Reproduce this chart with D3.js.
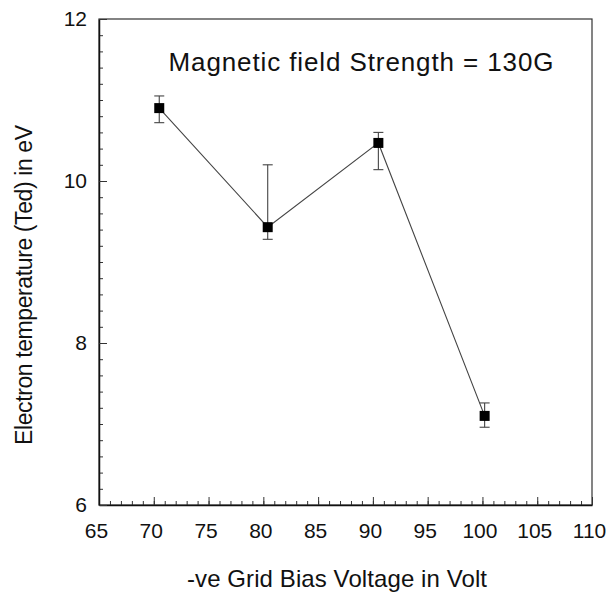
<!DOCTYPE html>
<html>
<head>
<meta charset="utf-8">
<script src="https://cdn.jsdelivr.net/npm/d3@7"></script>
<style>
  body { margin: 0; background: #fff; }
  text { font-family: "Liberation Sans", Arial, sans-serif; fill: #111; }
</style>
</head>
<body>
<div id="chart"></div>
<script>
// Data
const biasVoltage = [70.5, 80.4, 90.5, 100.2];
const electronTemp = [10.90, 9.43, 10.47, 7.10];
const errLow = [10.72, 9.28, 10.14, 6.96];
const errHigh = [11.05, 10.20, 10.60, 7.26];
const xTicks = [65, 70, 75, 80, 85, 90, 95, 100, 105, 110];
const yTicks = [6, 8, 10, 12];

const width = 613, height = 596;
const margin = { top: 19, right: 21, bottom: 91, left: 99 };
const plotW = width - margin.left - margin.right;
const plotH = height - margin.top - margin.bottom;

const svg = d3.select("#chart")
  .append("svg")
  .attr("width", width)
  .attr("height", height);

const g = svg.append("g")
  .attr("transform", `translate(${margin.left},${margin.top})`);

const x = d3.scaleLinear().domain([65, 110]).range([0, plotW]);
const y = d3.scaleLinear().domain([6, 12]).range([plotH, 0]);

// Box (top and right borders)
g.append("rect")
  .attr("width", plotW)
  .attr("height", plotH)
  .attr("fill", "none")
  .attr("stroke", "#333")
  .attr("stroke-width", 1.2);

// Minor ticks on x (every 1 V), pointing up
const xMinor = d3.range(65, 111, 1);
g.append("g")
  .attr("transform", `translate(0,${plotH})`)
  .call(d3.axisBottom(x).tickValues(xMinor).tickSize(-4).tickFormat(""))
  .call(a => a.select(".domain").remove())
  .selectAll("line").attr("stroke", "#333");

// Major x ticks with labels
const xAxis = g.append("g")
  .attr("transform", `translate(0,${plotH})`)
  .call(d3.axisBottom(x).tickValues(xTicks).tickSizeInner(-8).tickSizeOuter(0).tickPadding(18));
xAxis.select(".domain").attr("stroke", "#111").attr("stroke-width", 1.5);
xAxis.selectAll("line").attr("stroke", "#333");
xAxis.selectAll("text")
  .attr("font-size", "21px")
  .attr("dx", "-3px")
  .attr("fill", "#111");

// Minor ticks on y (every 0.2 eV), pointing right
const yMinor = d3.range(6, 12.001, 0.2);
g.append("g")
  .call(d3.axisLeft(y).tickValues(yMinor).tickSize(-4).tickFormat(""))
  .call(a => a.select(".domain").remove())
  .selectAll("line").attr("stroke", "#333");

// Major y ticks with labels
const yAxis = g.append("g")
  .call(d3.axisLeft(y).tickValues(yTicks).tickSizeInner(-8).tickSizeOuter(0).tickPadding(12).tickFormat(d3.format("d")));
yAxis.select(".domain").attr("stroke", "#111").attr("stroke-width", 1.5);
yAxis.selectAll("line").attr("stroke", "#333");
yAxis.selectAll("text")
  .attr("font-size", "21px")
  .attr("fill", "#111");

const points = biasVoltage.map((v, i) => ({
  v, t: electronTemp[i], lo: errLow[i], hi: errHigh[i]
}));

// Connecting line
g.append("path")
  .datum(points)
  .attr("fill", "none")
  .attr("stroke", "#444")
  .attr("stroke-width", 1.1)
  .attr("d", d3.line().x(d => x(d.v)).y(d => y(d.t)));

// Error bars
const err = g.append("g").attr("stroke", "#444").attr("stroke-width", 1.1);
err.selectAll(".stem")
  .data(points)
  .enter().append("line")
  .attr("x1", d => x(d.v)).attr("x2", d => x(d.v))
  .attr("y1", d => y(d.lo)).attr("y2", d => y(d.hi));
err.selectAll(".capHi")
  .data(points)
  .enter().append("line")
  .attr("x1", d => x(d.v) - 5).attr("x2", d => x(d.v) + 5)
  .attr("y1", d => y(d.hi)).attr("y2", d => y(d.hi));
err.selectAll(".capLo")
  .data(points)
  .enter().append("line")
  .attr("x1", d => x(d.v) - 5).attr("x2", d => x(d.v) + 5)
  .attr("y1", d => y(d.lo)).attr("y2", d => y(d.lo));

// Square markers
g.selectAll(".marker")
  .data(points)
  .enter().append("rect")
  .attr("x", d => x(d.v) - 5)
  .attr("y", d => y(d.t) - 5)
  .attr("width", 10)
  .attr("height", 10)
  .attr("fill", "#000");

// Annotation
svg.append("text")
  .attr("x", 361)
  .attr("y", 71)
  .attr("text-anchor", "middle")
  .attr("font-size", "26px")
  .attr("textLength", 385)
  .text("Magnetic field Strength = 130G");

// Axis labels
svg.append("text")
  .attr("x", 337)
  .attr("y", 587)
  .attr("text-anchor", "middle")
  .attr("font-size", "24px")
  .attr("textLength", 300)
  .text("-ve Grid Bias Voltage in Volt");

svg.append("text")
  .attr("transform", "rotate(-90)")
  .attr("x", -285)
  .attr("y", 32)
  .attr("text-anchor", "middle")
  .attr("font-size", "23px")
  .attr("textLength", 320)
  .text("Electron temperature (Ted) in eV");
</script>
</body>
</html>
